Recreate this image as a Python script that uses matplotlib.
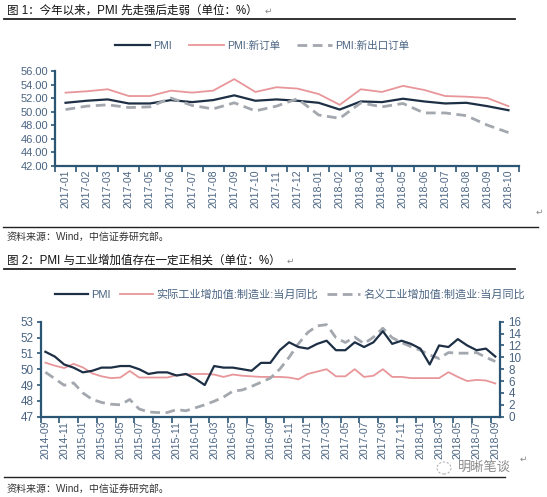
import matplotlib
matplotlib.use('Agg')
import matplotlib.pyplot as plt
from matplotlib.lines import Line2D
from matplotlib.patches import Ellipse

plt.rcParams['font.family'] = ['Liberation Sans', 'Noto Sans CJK SC', 'DejaVu Sans']

# ---------------- data: chart 1 ----------------
months1 = ['2017-01', '2017-02', '2017-03', '2017-04', '2017-05', '2017-06', '2017-07',
           '2017-08', '2017-09', '2017-10', '2017-11', '2017-12', '2018-01', '2018-02',
           '2018-03', '2018-04', '2018-05', '2018-06', '2018-07', '2018-08', '2018-09', '2018-10']
pmi1 = [51.3, 51.6, 51.8, 51.2, 51.2, 51.7, 51.4, 51.7, 52.4, 51.6, 51.8, 51.6,
        51.3, 50.3, 51.5, 51.4, 51.9, 51.5, 51.2, 51.3, 50.8, 50.2]
new_orders = [52.8, 53.0, 53.3, 52.3, 52.3, 53.1, 52.8, 53.1, 54.8, 52.9, 53.6, 53.4,
              52.6, 51.0, 53.3, 52.9, 53.8, 53.2, 52.3, 52.2, 52.0, 50.8]
export_orders = [50.3, 50.8, 51.0, 50.6, 50.7, 52.0, 50.9, 50.4, 51.3, 50.1, 50.8, 51.9,
                 49.5, 49.0, 51.3, 50.7, 51.2, 49.8, 49.8, 49.4, 48.0, 46.9]
yticks1 = [42, 44, 46, 48, 50, 52, 54, 56]

# ---------------- data: chart 2 ----------------
months2 = ['2014-09', '2014-10', '2014-11', '2014-12',
           '2015-01', '2015-02', '2015-03', '2015-04', '2015-05', '2015-06',
           '2015-07', '2015-08', '2015-09', '2015-10', '2015-11', '2015-12',
           '2016-01', '2016-02', '2016-03', '2016-04', '2016-05', '2016-06',
           '2016-07', '2016-08', '2016-09', '2016-10', '2016-11', '2016-12',
           '2017-01', '2017-02', '2017-03', '2017-04', '2017-05', '2017-06',
           '2017-07', '2017-08', '2017-09', '2017-10', '2017-11', '2017-12',
           '2018-01', '2018-02', '2018-03', '2018-04', '2018-05', '2018-06',
           '2018-07', '2018-08', '2018-09']
pmi2 = [51.1, 50.8, 50.3, 50.1,
        49.8, 49.9, 50.1, 50.1, 50.2, 50.2, 50.0, 49.7, 49.8, 49.8, 49.6, 49.7,
        49.4, 49.0, 50.2, 50.1, 50.1, 50.0, 49.9, 50.4, 50.4, 51.2, 51.7, 51.4,
        51.3, 51.6, 51.8, 51.2, 51.2, 51.7, 51.4, 51.7, 52.4, 51.6, 51.8, 51.6,
        51.3, 50.3, 51.5, 51.4, 51.9, 51.5, 51.2, 51.3, 50.8]
real_iva = [9.1, 8.6, 8.2, 8.9, 8.3, 7.3, 6.8, 6.5, 6.6, 7.7, 6.6, 6.6, 6.6, 6.6,
            7.0, 7.1, 7.2, 7.2, 7.1, 6.7, 7.1, 6.9, 6.8, 6.7, 6.7, 6.7, 6.6, 6.3,
            7.2, 7.6, 8.0, 6.8, 6.8, 8.0, 6.7, 6.9, 8.0, 6.7, 6.7, 6.5, 6.5, 6.5,
            6.5, 7.5, 6.7, 6.0, 6.2, 6.1, 5.6]
nominal_iva = [7.5, 6.4, 5.3, 5.7, 4.0, 2.9, 2.4, 2.1, 2.0, 2.9, 1.3, 0.8, 0.7, 0.7,
               1.2, 1.0, 1.5, 2.0, 2.6, 3.3, 4.3, 4.5, 5.1, 5.8, 6.5, 8.0, 10.0, 12.3,
               14.2, 15.3, 15.5, 13.3, 12.5, 13.4, 12.3, 13.4, 14.9, 13.3, 12.5, 11.8,
               11.2, 10.4, 9.8, 10.8, 10.7, 10.7, 10.8, 10.0, 9.3]
yticks2_left = [47, 48, 49, 50, 51, 52, 53]
yticks2_right = [0, 2, 4, 6, 8, 10, 12, 14, 16]

# ---------------- styling ----------------
W, H = 547, 497
C_PMI = '#1d2f45'
C_RED = '#e8969a'
C_GREY = '#a3a7ae'
C_SPINE = '#2b5575'
C_TICK = '#4a6482'
CJK = ['Liberation Sans', 'Noto Sans CJK SC', 'DejaVu Sans']

fig = plt.figure(figsize=(W / 100, H / 100), dpi=100)
fig.patch.set_facecolor('white')


def fx(px):
    return px / W


def fy(py):
    return 1 - py / H


def hline(x0, x1, y, lw=1.0, color='#222222'):
    fig.add_artist(Line2D([fx(x0), fx(x1)], [fy(y), fy(y)], transform=fig.transFigure,
                          color=color, lw=lw))


# titles, separators, sources
fig.text(fx(7), fy(11), '图 1：今年以来，PMI 先走强后走弱（单位：%）', fontsize=8.3,
         family=CJK, va='center', ha='left', color='#111111')
fig.text(fx(265), fy(11), '↵', fontsize=6.5, family=['DejaVu Sans'], va='center', color='#888888')
hline(4, 515, 18.5, lw=1.3)
hline(3, 538, 227, lw=1.0)
fig.text(fx(7), fy(237), '资料来源：Wind，中信证券研究部。', fontsize=7.2, family=CJK,
         va='center', ha='left', color='#333333')
fig.text(fx(536), fy(212), '↵', fontsize=6.5, family=['DejaVu Sans'], va='center', color='#888888')

fig.text(fx(7), fy(261), '图 2：PMI 与工业增加值存在一定正相关（单位：%）', fontsize=8.3,
         family=CJK, va='center', ha='left', color='#111111')
fig.text(fx(287), fy(261), '↵', fontsize=6.5, family=['DejaVu Sans'], va='center', color='#888888')
hline(4, 515, 269, lw=1.3)
hline(4, 505, 477, lw=1.0)
fig.text(fx(7), fy(489), '资料来源：Wind，中信证券研究部。', fontsize=7.2, family=CJK,
         va='center', ha='left', color='#333333')
fig.text(fx(458), fy(468), '明晰笔谈', fontsize=9.5, family=CJK, va='center', ha='left',
         color='#8a8a8a')
fig.add_artist(Ellipse((fx(444), fy(468)), fx(14), 12 / H, transform=fig.transFigure,
                       fill=False, ec='#b5b5b5', lw=0.8, ls=(0, (2, 1.5))))
fig.text(fx(520), fy(459), '↵', fontsize=6.5, family=['DejaVu Sans'], va='center', color='#888888')

# ---------------- chart 1 ----------------
ax1 = fig.add_axes([fx(55), fy(165.7), fx(519) - fx(55), fy(71) - fy(165.7)])
x1 = list(range(len(months1)))
ax1.plot(x1, pmi1, color=C_PMI, lw=1.6, label='PMI')
ax1.plot(x1, new_orders, color=C_RED, lw=1.3, label='PMI:新订单')
ax1.plot(x1, export_orders, color=C_GREY, lw=2.0, ls=(0, (3.5, 2)), label='PMI:新出口订单')
ax1.set_xlim(-0.5, len(months1) - 0.5)
ax1.set_ylim(42, 56)
ax1.set_yticks(yticks1)
ax1.set_yticklabels([f'{v:.2f}' for v in yticks1], fontsize=8.0, color=C_TICK)
ax1.set_xticks([i - 0.5 for i in range(len(months1) + 1)])
ax1.set_xticklabels([])
ax1.set_xticks(x1, minor=True)
ax1.set_xticklabels(months1, minor=True, rotation=90, fontsize=7.6, color=C_TICK)
ax1.tick_params(axis='x', which='major', direction='out', length=4, color=C_SPINE, width=1.2)
ax1.tick_params(axis='x', which='minor', length=0, pad=3)
ax1.tick_params(axis='y', direction='out', length=3, color=C_SPINE, width=1.2, pad=2)
for s in ['top', 'right']:
    ax1.spines[s].set_visible(False)
for s in ['left', 'bottom']:
    ax1.spines[s].set_color(C_SPINE)
    ax1.spines[s].set_linewidth(1.6)
ax1.patch.set_alpha(0)
h1, l1 = ax1.get_legend_handles_labels()
fig.legend(h1, l1, loc='center', bbox_to_anchor=(fx(262), fy(46)), ncol=3, frameon=False,
           handlelength=3.3, columnspacing=1.6, handletextpad=0.3,
           labelcolor=C_TICK, prop={'family': CJK, 'size': 7.6})

# ---------------- chart 2 ----------------
ax2 = fig.add_axes([fx(40.7), fy(416.7), fx(500) - fx(40.7), fy(321.7) - fy(416.7)])
x2 = list(range(len(months2)))
ax2.plot(x2, pmi2, color=C_PMI, lw=1.6, label='PMI')
ax2.set_xlim(-0.5, len(months2) - 0.5)
ax2.set_ylim(47, 53)
ax2.set_yticks(yticks2_left)
ax2.set_yticklabels([str(v) for v in yticks2_left], fontsize=8.4, color=C_TICK)
ax2.set_xticks([i - 0.5 for i in range(0, len(months2) + 1, 2)])
ax2.set_xticklabels([])
ax2.set_xticks(x2[::2], minor=True)
ax2.set_xticklabels(months2[::2], minor=True, rotation=90, fontsize=7.6, color=C_TICK)
ax2.tick_params(axis='x', which='major', direction='out', length=4, color=C_SPINE, width=1.2)
ax2.tick_params(axis='x', which='minor', length=0, pad=3)
ax2.tick_params(axis='y', direction='out', length=3, color=C_SPINE, width=1.2, pad=2)
ax2.spines['top'].set_visible(False)
ax2.spines['right'].set_visible(False)
for s in ['left', 'bottom']:
    ax2.spines[s].set_color(C_SPINE)
    ax2.spines[s].set_linewidth(1.6)

ax3 = ax2.twinx()
ax3.plot(x2, real_iva, color=C_RED, lw=1.3, label='实际工业增加值:制造业:当月同比')
ax3.plot(x2, nominal_iva, color=C_GREY, lw=2.0, ls=(0, (3.5, 2)),
         label='名义工业增加值:制造业:当月同比')
ax3.set_ylim(0, 16)
ax3.set_yticks(yticks2_right)
ax3.set_yticklabels([str(v) for v in yticks2_right], fontsize=8.4, color=C_TICK)
ax3.tick_params(axis='y', direction='out', length=3, color=C_SPINE, width=1.2, pad=3)
for s in ['top', 'left', 'bottom']:
    ax3.spines[s].set_visible(False)
ax3.spines['right'].set_color(C_SPINE)
ax3.spines['right'].set_linewidth(1.6)
ax2.set_zorder(ax3.get_zorder() + 1)
ax2.patch.set_visible(False)

h2, l2 = ax2.get_legend_handles_labels()
h3, l3 = ax3.get_legend_handles_labels()
fig.legend(h2 + h3, l2 + l3, loc='center', bbox_to_anchor=(fx(290), fy(295)), ncol=3,
           frameon=False, handlelength=3.0, columnspacing=0.8, handletextpad=0.3,
           labelcolor=C_TICK, prop={'family': CJK, 'size': 8.0})

fig.savefig('out.png', dpi=100, facecolor='white')
